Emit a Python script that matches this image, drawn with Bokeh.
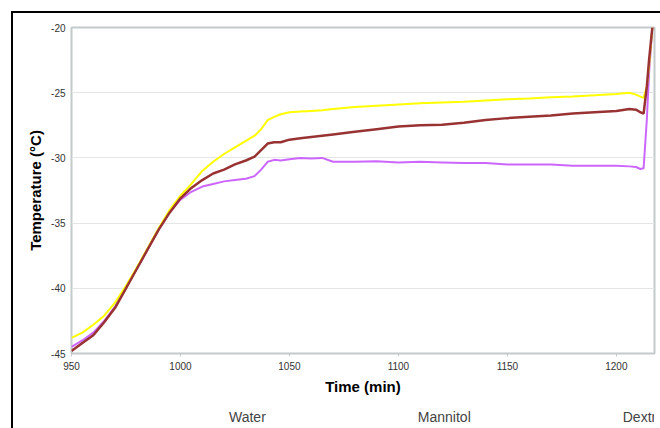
from bokeh.plotting import figure
from bokeh.layouts import column
from bokeh.models import Range1d, FixedTicker, Legend, LegendItem, CustomJSTickFormatter
from bokeh.embed import file_html
from bokeh.resources import INLINE

# ---- data ----
time_min = [950, 955, 960, 965, 970, 975, 980, 985, 990, 995, 1000, 1005, 1010, 1015,
            1020, 1025, 1030, 1034, 1037, 1040, 1043, 1046, 1050, 1055, 1060, 1065, 1070,
            1080, 1090, 1100, 1110, 1120, 1130, 1140, 1150, 1160, 1170, 1180, 1190, 1200,
            1206, 1209, 1211, 1212.5, 1214, 1215, 1216.5]

water = [-44.5, -44.0, -43.4, -42.5, -41.4, -39.9, -38.5, -37.0, -35.5, -34.2, -33.2, -32.6,
         -32.2, -32.0, -31.8, -31.7, -31.6, -31.4, -30.9, -30.3, -30.15, -30.2, -30.1, -30.0,
         -30.05, -30.0, -30.3, -30.3, -30.25, -30.35, -30.3, -30.35, -30.4, -30.4, -30.5,
         -30.5, -30.5, -30.6, -30.6, -30.6, -30.65, -30.7, -30.85, -30.8, -27.0, -23.5, -20.0]

mannitol = [-43.8, -43.4, -42.8, -42.1, -41.1, -39.8, -38.4, -36.9, -35.4, -34.0, -32.9, -32.0,
            -31.0, -30.3, -29.7, -29.2, -28.7, -28.3, -27.8, -27.1, -26.85, -26.65, -26.5,
            -26.45, -26.4, -26.35, -26.25, -26.1, -26.0, -25.9, -25.8, -25.75, -25.7, -25.6,
            -25.5, -25.45, -25.35, -25.3, -25.2, -25.1, -25.0, -25.15, -25.3, -25.4, -24.5,
            -23.0, -20.0]

dextran = [-44.8, -44.2, -43.6, -42.6, -41.5, -40.0, -38.5, -37.0, -35.5, -34.2, -33.1, -32.3,
           -31.7, -31.2, -30.9, -30.5, -30.2, -29.9, -29.4, -28.9, -28.8, -28.8, -28.6, -28.5,
           -28.4, -28.3, -28.2, -28.0, -27.8, -27.6, -27.5, -27.45, -27.3, -27.1, -26.95,
           -26.85, -26.75, -26.6, -26.5, -26.4, -26.25, -26.3, -26.5, -26.6, -24.5, -22.5, -20.0]

series_names = ["Water", "Mannitol", "Dextran"]
x_ticks = [950, 1000, 1050, 1100, 1150, 1200]
y_ticks = [-45, -40, -35, -30, -25, -20]

FONT = "Liberation Sans"
colors = ["#CC66FF", "#FFFF00", "#993333"]
widths = [2, 2, 2.5]

frame_lines = ("linear-gradient(#000, #000) 11px 11px / 2px 100% no-repeat, "
               "linear-gradient(#000, #000) 11px 11px / 100% 2px no-repeat, #fff")
left_line = "linear-gradient(#000, #000) 11px 0px / 2px 100% no-repeat, #fff"

# ---- main chart ----
p = figure(width=660, height=400, output_backend="svg", toolbar_location=None,
           x_range=Range1d(950, 1217.5), y_range=Range1d(-45, -20),
           min_border_left=71, min_border_top=27, min_border_right=6, min_border_bottom=47,
           styles={"background": frame_lines})

p.background_fill_color = "white"
p.border_fill_alpha = 0
p.outline_line_color = "#C4CACA"
p.outline_line_width = 2

for ys, c, w in zip([water, mannitol, dextran], colors, widths):
    p.line(time_min, ys, line_color=c, line_width=w)

p.xgrid.grid_line_color = None
p.ygrid.grid_line_color = "#E4E6E6"
p.ygrid.grid_line_width = 1
p.ygrid.ticker = FixedTicker(ticks=y_ticks)

p.xaxis.ticker = FixedTicker(ticks=x_ticks)
p.yaxis.ticker = FixedTicker(ticks=y_ticks)
p.yaxis.formatter = CustomJSTickFormatter(code="return tick.toFixed(0)")
p.xaxis.formatter = CustomJSTickFormatter(code="return tick.toFixed(0)")
for ax in (p.xaxis[0], p.yaxis[0]):
    ax.axis_line_color = None
    ax.minor_tick_line_color = None
    ax.major_label_text_font = FONT
    ax.major_label_text_font_size = "10px"
    ax.major_label_text_color = "#333333"
    ax.axis_label_text_font = FONT
    ax.axis_label_text_font_size = "15px"
    ax.axis_label_text_font_style = "bold"
    ax.axis_label_text_color = "black"

p.xaxis.major_tick_line_color = "#C4CACA"
p.xaxis.major_tick_in = 0
p.xaxis.major_tick_out = 3
p.xaxis.major_label_standoff = 5
p.xaxis.axis_label = "Time (min)"
p.xaxis.axis_label_standoff = 5

p.yaxis.major_tick_line_color = None
p.yaxis.major_tick_in = 0
p.yaxis.major_tick_out = 0
p.yaxis.major_label_standoff = 6
p.yaxis.axis_label = "Temperature (°C)"
p.yaxis.axis_label_standoff = 4

# ---- legend strip below the chart ----
lg = figure(width=660, height=28, output_backend="svg", toolbar_location=None,
            x_range=Range1d(0, 1), y_range=Range1d(0, 1),
            x_axis_location=None, y_axis_location=None, min_border=0,
            styles={"background": left_line})
lg.background_fill_alpha = 0
lg.border_fill_alpha = 0
lg.outline_line_color = None
lg.grid.grid_line_color = None

key_renderers = [lg.line(x=[], y=[], line_color=c, line_width=w) for c, w in zip(colors, widths)]

legend = Legend(items=[LegendItem(label=n, renderers=[r]) for n, r in zip(series_names, key_renderers)],
                orientation="horizontal", location=(133, 3), spacing=127,
                glyph_width=22, glyph_height=14, label_standoff=3,
                label_text_font=FONT, label_text_font_size="14px",
                label_height=14, border_line_color=None, background_fill_alpha=0,
                padding=0, margin=0)
lg.add_layout(legend, "center")

layout = column(p, lg, spacing=0)

open("out.html", "w").write(file_html(layout, INLINE))
